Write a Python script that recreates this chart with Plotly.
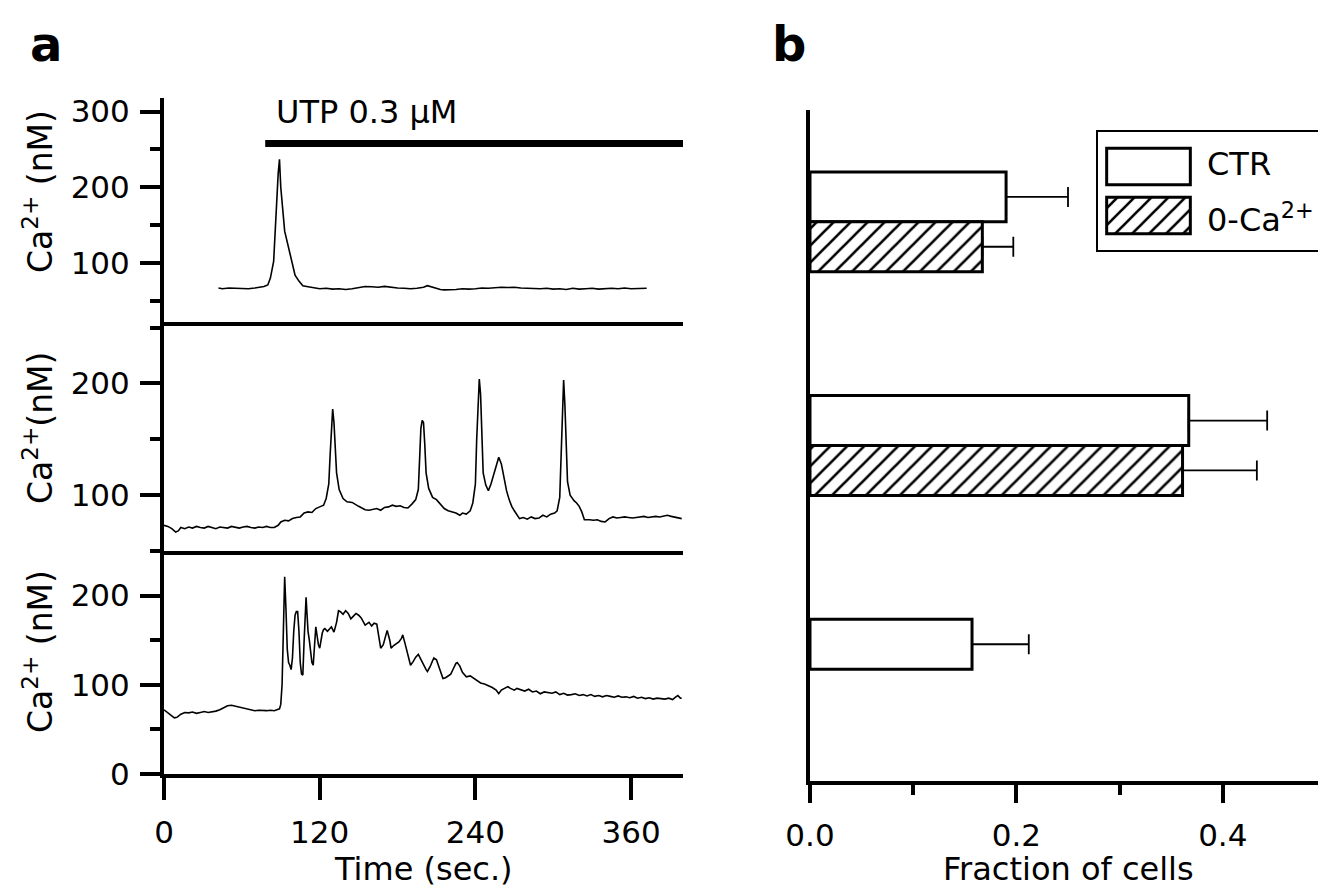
import plotly.graph_objects as go

# ---------------- data: panel a (Ca2+ traces, nM vs time in s) ----------------
t_top = [42, 45, 50, 55, 60, 65, 70, 74, 77, 80, 82, 84.5, 86, 88, 89, 90, 93, 96, 98, 101, 104, 107,
         110, 115, 120, 125, 130, 135, 140, 145, 150, 155, 160, 165, 170, 175, 180, 185, 190, 195,
         200, 203, 206, 210, 213, 216, 220, 225, 230, 235, 240, 245, 250, 255, 260, 265, 270, 275,
         280, 285, 290, 295, 300, 305, 310, 315, 320, 325, 330, 335, 340, 345, 350, 355, 360, 365, 370, 372]
ca_top = [67, 66, 67, 66.5, 67, 66, 67, 68, 69, 71, 80, 102, 155, 218, 237, 200, 142, 120, 108, 84, 76, 70,
          69, 68, 66, 66.5, 65.5, 66, 65, 66, 68, 69, 68.5, 68, 69, 67.5, 67, 66.5, 66, 66.5,
          68, 70, 68.5, 66, 65, 64.5, 64.5, 65, 66, 65.5, 66, 67, 66.5, 67.5, 68, 67.5, 68, 67,
          66.5, 67, 66, 66.5, 65.5, 66, 65, 66.5, 65.5, 66, 66.5, 65.5, 66, 66.5, 66, 67, 66, 66.5, 67, 66.5]

t_mid = [0, 3, 6, 9, 11, 13, 16, 19, 22, 25, 28, 31, 34, 37, 40, 43, 46, 49, 52, 55, 58, 61, 64, 67, 70,
         73, 76, 79, 82, 85, 88, 90, 93, 96, 99, 102, 105, 108, 111, 114, 117, 120, 123, 125, 127, 128,
         129, 130, 131, 132, 133, 135, 138, 141, 145, 150, 155, 158, 161, 164, 167, 170, 173, 176, 179,
         182, 185, 188, 191, 194, 196, 197, 198, 199, 200, 201, 202, 204, 207, 210, 213, 216, 219, 222,
         225, 228, 230, 233, 236, 238, 240, 241, 242, 243, 244, 245, 246, 248, 250, 252, 254, 256, 257,
         258, 260, 262, 264, 266, 268, 270, 272, 274, 277, 280, 283, 286, 289, 292, 295, 298, 301, 303,
         305, 306, 307, 308, 309, 310, 311, 313, 316, 318, 320, 322, 324, 328, 331, 334, 337, 340, 343,
         346, 349, 352, 355, 358, 361, 364, 367, 370, 373, 376, 379, 382, 385, 388, 391, 394, 397, 399]
ca_mid = [73, 72, 70, 67, 68, 71, 70, 71.5, 70.5, 72, 71, 70.5, 72, 71, 70, 71.5, 71, 70.5, 72, 71, 70.5,
          71.5, 72, 71, 70.5, 71.5, 71, 72, 71, 71, 73, 76, 77.5, 77, 79, 80, 80.5, 84, 85, 84.5, 88,
          89.5, 91, 97, 110, 135, 160, 177, 165, 140, 120, 105, 97, 94, 93.5, 90, 87, 86.5, 87.5, 88,
          86.5, 89, 89.5, 91, 90, 90.5, 89, 88.5, 92, 96, 105, 135, 160, 167, 165, 145, 120, 106, 98,
          96, 92, 88, 86, 85, 84, 82, 84, 83, 86, 93, 110, 150, 185, 204, 190, 150, 120, 109, 104,
          110, 118, 126, 131, 134, 128, 116, 104, 96, 90, 86, 82, 79, 80, 78.5, 80.5, 79, 79.5, 82,
          80.5, 83, 84, 86, 98, 130, 175, 203, 180, 140, 112, 100, 95, 93, 90, 85, 78, 78, 77.5, 78,
          76.5, 76, 79, 80.5, 79.5, 80, 80.5, 80, 79.5, 80, 80.5, 81, 80, 80.5, 81, 80.5, 81, 82, 81,
          80.5, 80, 79]

t_bot = [0, 2, 5, 8, 10, 13, 16, 19, 22, 25, 28, 31, 34, 37, 40, 43, 46, 49, 52, 55, 58, 61, 64, 67, 70,
         73, 76, 79, 82, 85, 87, 89, 90, 91, 92, 93, 94, 95, 96, 97, 98, 99, 100, 101, 102, 103, 104,
         105, 106, 107, 108, 109, 109.5, 110, 111, 112, 113, 114, 115, 116, 117, 118, 119, 120, 121,
         122, 123, 124, 126, 127.7, 129, 131, 133, 134.5, 136, 138, 140, 142, 144, 146, 148, 150, 152,
         155, 158, 160, 162, 164, 166, 167, 169, 171, 172, 174, 175, 177, 179, 181, 183, 184, 186, 188,
         190, 192, 194, 196, 198, 200, 202, 203, 205, 207, 208, 210, 212, 214, 215, 217, 219, 221, 223,
         225, 226, 228, 230, 232, 233, 236, 239, 241, 244, 247, 250, 253, 256, 258, 260, 262, 265, 267,
         270, 272, 275, 278, 281, 284, 287, 290, 293, 296, 299, 302, 305, 308, 311, 314, 317, 320, 323,
         326, 329, 332, 335, 338, 341, 344, 347, 350, 353, 356, 359, 362, 365, 368, 371, 374, 377, 380,
         383, 386, 389, 392, 394, 396, 398, 399]
ca_bot = [72, 70, 66, 63, 63.5, 67, 69, 68.5, 69.5, 68, 69, 70, 69, 69.5, 70.5, 72, 74, 76.5, 77, 76,
          75.5, 74, 73, 72.5, 71, 71.5, 71, 71, 71.5, 71, 72, 73, 78, 100, 160, 221, 185, 140, 125,
          122, 117, 130, 160, 178, 182, 182, 160, 125, 112, 111, 150, 190, 198, 185, 160, 150, 135,
          125, 122, 140, 165, 155, 145, 141, 150, 158, 162, 163, 160, 163, 165, 159, 170, 183, 182,
          179, 183, 180, 174, 177, 180, 178, 175, 167, 170, 166, 169, 168, 150, 141, 145, 158, 161,
          150, 141, 144, 146, 148, 152, 156, 145, 132, 122, 126, 131, 134, 128, 122, 117, 115, 120,
          127, 130, 128, 120, 110, 107, 108, 110, 112, 118, 124, 125, 121, 114, 110, 109, 110, 107,
          104, 102, 101, 99, 97, 94, 90, 94, 96, 98, 96, 94, 96, 94.5, 93, 95, 92, 93, 90, 92, 91,
          90.5, 92, 89, 90.5, 88.5, 89, 90, 88, 89, 87.5, 89, 87, 88, 86.5, 88, 87, 86, 87.5, 86,
          86.5, 85.5, 87, 85, 86, 84.5, 85.5, 84, 85, 84.5, 84, 85, 83.5, 86, 88, 85, 85]

# stimulus bar (UTP application)
utp_label = "UTP 0.3 \u03bcM"
utp_start, utp_end, utp_level = 78, 400, 258

x_ticks_a = [0, 120, 240, 360]

# ---------------- data: panel b (fraction of cells) ----------------
categories = ["Single spike", "Oscillations", "Sustained"]
ctr_vals = [0.190, 0.367, 0.157]
ctr_err = [0.060, 0.076, 0.055]
ca0_vals = [0.167, 0.361, None]
ca0_err = [0.030, 0.072, None]
x_ticks_b = [0.0, 0.2, 0.4]
x_ticklabels_b = ["0.0", "0.2", "0.4"]
legend_names = ["CTR", "0-Ca<sup>2+</sup>"]

# ---------------- layout helpers ----------------
W, H = 1326, 889
FONT = "DejaVu Sans"
def px_x(p): return p / W
def px_y(p): return (H - p) / H

HATCH = dict(shape="/", fgcolor="black", bgcolor="white", fgopacity=1, size=12, solidity=0.22)

fig = go.Figure()

# panel a traces
fig.add_trace(go.Scatter(x=t_bot, y=ca_bot, mode="lines", line=dict(color="black", width=1.6),
                         xaxis="x", yaxis="y", showlegend=False))
fig.add_trace(go.Scatter(x=t_mid, y=ca_mid, mode="lines", line=dict(color="black", width=1.6),
                         xaxis="x2", yaxis="y2", showlegend=False))
fig.add_trace(go.Scatter(x=t_top, y=ca_top, mode="lines", line=dict(color="black", width=1.6),
                         xaxis="x3", yaxis="y3", showlegend=False))
fig.add_trace(go.Scatter(x=[utp_start, utp_end], y=[utp_level, utp_level], mode="lines",
                         line=dict(color="black", width=7), xaxis="x3", yaxis="y3",
                         showlegend=False, cliponaxis=False))

# panel b bars
fig.add_trace(go.Bar(y=categories, x=ctr_vals, orientation="h", name="CTR",
                     marker=dict(color="white", line=dict(color="black", width=3)),
                     error_x=dict(type="data", array=ctr_err, arrayminus=[0] * len(ctr_err),
                                  symmetric=False, color="black", thickness=1.8, width=10),
                     xaxis="x4", yaxis="y4", showlegend=False))
fig.add_trace(go.Bar(y=categories, x=ca0_vals, orientation="h", name="0-Ca2+",
                     marker=dict(color="white", line=dict(color="black", width=3), pattern=HATCH),
                     error_x=dict(type="data", array=ca0_err, arrayminus=[0, 0, 0],
                                  symmetric=False, color="black", thickness=1.8, width=10),
                     xaxis="x4", yaxis="y4", showlegend=False))

# legend swatches (same styles as the bars)
fig.add_trace(go.Bar(y=[legend_names[0]], x=[1], orientation="h", width=0.74,
                     marker=dict(color="white", line=dict(color="black", width=3)),
                     xaxis="x5", yaxis="y5", showlegend=False, hoverinfo="skip"))
fig.add_trace(go.Bar(y=[legend_names[1]], x=[1], orientation="h", width=0.74,
                     marker=dict(color="white", line=dict(color="black", width=3), pattern=HATCH),
                     xaxis="x5", yaxis="y5", showlegend=False, hoverinfo="skip"))

tickfont = dict(family=FONT, size=31, color="black")
XA = [px_x(156), px_x(675)]
common_y = dict(showgrid=False, zeroline=False, showline=True, linewidth=4, linecolor="black",
                ticks="outside", ticklen=20, tickwidth=4, tickcolor="black", tickfont=tickfont,
                ticklabelstandoff=4, automargin=False)

fig.update_layout(
    width=W, height=H, autosize=False,
    margin=dict(l=0, r=0, t=0, b=0, autoexpand=False),
    paper_bgcolor="white", plot_bgcolor="rgba(0,0,0,0)",
    font=dict(family=FONT, size=31, color="black"),
    barmode="group", bargap=0.554, bargroupgap=0,
    xaxis=dict(domain=XA, anchor="y", range=[0, 400], tickvals=x_ticks_a, showgrid=False,
               zeroline=False, showline=True, linewidth=4, linecolor="black", ticks="outside",
               ticklen=22, tickwidth=4, tickcolor="black", tickfont=tickfont, ticklabelstandoff=6,
               automargin=False),
    yaxis=dict(domain=[px_y(766), px_y(543)], anchor="x", range=[0, 250], tickvals=[0, 100, 200],
               minor=dict(tickvals=[50, 150], ticks="outside", ticklen=10, tickwidth=4, tickcolor="black"),
               **common_y),
    xaxis2=dict(domain=XA, anchor="y2", matches="x", range=[0, 400], showticklabels=False,
                ticks="", showgrid=False, zeroline=False, showline=True, linewidth=4, linecolor="black",
                automargin=False),
    yaxis2=dict(domain=[px_y(543), px_y(314)], anchor="x2", range=[50, 255], tickvals=[100, 200],
                minor=dict(tickvals=[50, 150, 250], ticks="outside", ticklen=10, tickwidth=4, tickcolor="black"),
                **common_y),
    xaxis3=dict(domain=XA, anchor="y3", matches="x", range=[0, 400], showticklabels=False,
                ticks="", showgrid=False, zeroline=False, showline=True, linewidth=4, linecolor="black",
                automargin=False),
    yaxis3=dict(domain=[px_y(314), px_y(90)], anchor="x3", range=[22, 318], tickvals=[100, 200, 300],
                minor=dict(tickvals=[50, 150, 250], ticks="outside", ticklen=10, tickwidth=4, tickcolor="black"),
                **common_y),
    xaxis4=dict(domain=[px_x(802), px_x(1318)], anchor="y4", range=[0, 0.5], tickvals=x_ticks_b,
                ticktext=x_ticklabels_b, showgrid=False, zeroline=False, showline=True, linewidth=4,
                linecolor="black", ticks="outside", ticklen=18, tickwidth=4, tickcolor="black",
                tickfont=tickfont, ticklabelstandoff=6, automargin=False,
                minor=dict(tickvals=[0.1, 0.3, 0.5], ticks="outside", ticklen=10, tickwidth=4, tickcolor="black")),
    yaxis4=dict(domain=[px_y(773), px_y(102)], anchor="x4", type="category", range=[2.5, -0.5],
                showticklabels=False, ticks="", showgrid=False, zeroline=False, showline=True,
                linewidth=4, linecolor="black", automargin=False),
    xaxis5=dict(domain=[px_x(1097), px_x(1184)], anchor="y5", range=[-0.02, 1.02], visible=False,
                automargin=False),
    yaxis5=dict(domain=[px_y(232), px_y(134)], anchor="x5", type="category", range=[1.5, -0.5],
                visible=False, automargin=False),
)

# legend frame
fig.add_shape(type="rect", xref="paper", yref="paper", x0=px_x(1089), x1=px_x(1323),
              y0=px_y(243), y1=px_y(123), line=dict(color="black", width=2),
              fillcolor="white", layer="below")

ann = []
ann.append(dict(text=legend_names[0], x=px_x(1197), y=px_y(156), xref="paper", yref="paper",
                xanchor="left", yanchor="middle", showarrow=False, font=dict(family=FONT, size=32)))
ann.append(dict(text=legend_names[1], x=px_x(1197), y=px_y(210), xref="paper", yref="paper",
                xanchor="left", yanchor="middle", showarrow=False, font=dict(family=FONT, size=32)))
# UTP label
ann.append(dict(text=utp_label, x=85, y=300, xref="x3", yref="y3", xanchor="left", yanchor="middle",
                showarrow=False, font=dict(family=FONT, size=32)))
# axis titles
ann.append(dict(text="Time (sec.)", x=px_x(415), y=px_y(861), xref="paper", yref="paper",
                xanchor="center", yanchor="middle", showarrow=False, font=dict(family=FONT, size=32)))
ann.append(dict(text="Fraction of cells", x=px_x(1060), y=px_y(861), xref="paper", yref="paper",
                xanchor="center", yanchor="middle", showarrow=False, font=dict(family=FONT, size=32)))
for ytxt, yc in [("Ca<sup>2+</sup> (nM)", 184), ("Ca<sup>2+</sup>(nM)", 420), ("Ca<sup>2+</sup> (nM)", 644)]:
    ann.append(dict(text=ytxt, x=px_x(30), y=px_y(yc), xref="paper", yref="paper", textangle=-90,
                    xanchor="center", yanchor="middle", showarrow=False, font=dict(family=FONT, size=33)))
# panel letters
ann.append(dict(text="<b>a</b>", x=px_x(20), y=px_y(36), xref="paper", yref="paper",
                xanchor="left", yanchor="middle", showarrow=False, font=dict(family=FONT, size=48)))
ann.append(dict(text="<b>b</b>", x=px_x(762), y=px_y(36), xref="paper", yref="paper",
                xanchor="left", yanchor="middle", showarrow=False, font=dict(family=FONT, size=48)))
fig.update_layout(annotations=ann)

fig.write_html("out.html")
